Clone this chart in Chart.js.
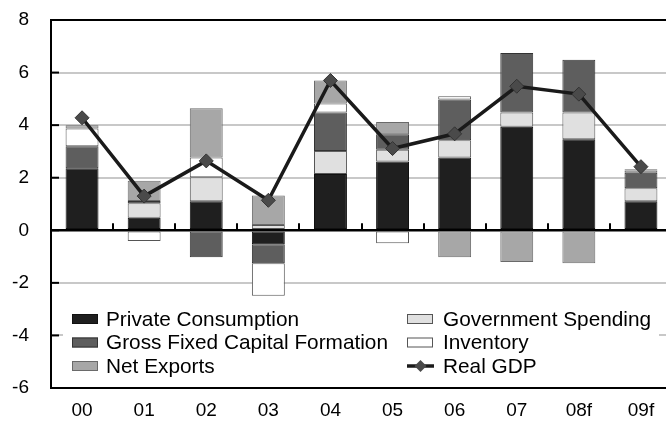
<!DOCTYPE html>
<html lang="en">
<head>
    <meta charset="UTF-8">
    <title>GDP contributions</title>
    <script src="https://cdn.jsdelivr.net/npm/chart.js@4.4.1/dist/chart.umd.min.js"></script>
    <style>
        html, body {
            margin: 0;
            padding: 0;
            background: #fff;
            overflow: hidden;
        }
        #wrap {
            width: 680px;
            height: 423px;
        }
    </style>
</head>
<body>
<div id="wrap"><canvas id="gdpChart" width="680" height="423"></canvas></div>
<script>
    // contributions to real GDP growth, percentage points
    const years = ['00', '01', '02', '03', '04', '05', '06', '07', '08f', '09f'];
    const privCons   = [2.36, 0.48, 1.10, -0.53, 2.14, 2.62, 2.77, 3.94, 3.46, 1.10];
    const govSpend   = [null, 0.55, 0.92, 0.20, 0.88, 0.44, 0.66, 0.54, 1.02, 0.50];
    const gfcf       = [0.84, 0.08, -1.03, -0.72, 1.46, 0.59, 1.55, 2.26, 2.01, 0.59];
    const inventory  = [0.67, -0.41, 0.75, -1.24, 0.34, -0.49, 0.12, null, null, 0.08];
    const netExports = [0.13, 0.77, 1.87, 1.12, 0.88, 0.47, -1.03, -1.21, -1.25, 0.05];
    const realGdp    = [4.28, 1.30, 2.64, 1.14, 5.70, 3.11, 3.67, 5.48, 5.18, 2.42];
    const yTicks = [-6, -4, -2, 0, 2, 4, 6, 8];

    const FONT = '"Liberation Sans", Arial, sans-serif';

    function barSet(label, data, fill, edge) {
        return {
            type: 'bar',
            label: label,
            data: data,
            backgroundColor: fill,
            borderColor: edge,
            borderWidth: 1,
            borderSkipped: false,
            stack: 'c',
            order: 1,
            barPercentage: 0.53,
            categoryPercentage: 1
        };
    }

    const datasets = [
        barSet('Private Consumption', privCons, '#1f1f1f', '#111'),
        barSet('Government Spending', govSpend, '#e0e0e0', '#555'),
        barSet('Gross Fixed Capital Formation', gfcf, '#5e5e5e', '#333'),
        barSet('Inventory', inventory, '#ffffff', '#555'),
        barSet('Net Exports', netExports, '#a7a7a7', '#6a6a6a'),
        {
            type: 'line',
            label: 'Real GDP',
            data: realGdp,
            stack: 'g',
            order: 0,
            borderColor: '#1a1a1a',
            borderWidth: 3.5,
            tension: 0,
            pointStyle: 'rectRot',
            pointRadius: 7,
            pointBackgroundColor: '#4a4a4a',
            pointBorderColor: '#333',
            pointBorderWidth: 1
        }
    ];

    // legend in two columns, row by row, on a white panel inside the plot
    const legendRows = [
        [datasets[0], datasets[1]],
        [datasets[2], datasets[3]],
        [datasets[4], datasets[5]]
    ];

    const extras = {
        id: 'extras',
        afterDraw(chart) {
            const c = chart.ctx;
            const xs = chart.scales.x;
            const ys = chart.scales.y;
            const area = chart.chartArea;
            c.save();

            // y axis ticks pointing inward
            c.strokeStyle = '#000';
            c.lineWidth = 2;
            yTicks.forEach(v => {
                const py = ys.getPixelForValue(v);
                c.beginPath();
                c.moveTo(area.left, py);
                c.lineTo(area.left + 8, py);
                c.stroke();
            });

            // category separators on the zero line
            const y0 = ys.getPixelForValue(0);
            for (let i = 1; i < years.length; i++) {
                const px = Math.round((xs.getPixelForValue(i - 1) + xs.getPixelForValue(i)) / 2);
                c.beginPath();
                c.moveTo(px, y0);
                c.lineTo(px, y0 - 7);
                c.stroke();
            }

            // legend panel
            c.fillStyle = '#fff';
            c.fillRect(63, 301, 596, 84);
            c.font = '20.8px ' + FONT;
            c.textBaseline = 'middle';
            c.textAlign = 'left';
            const colBox = [72, 407];
            const colText = [106, 443];
            const rowY = [319, 342.5, 366];
            legendRows.forEach((row, r) => {
                row.forEach((ds, k) => {
                    const bx = colBox[k];
                    const by = rowY[r];
                    if (ds.type === 'line') {
                        c.strokeStyle = ds.borderColor;
                        c.lineWidth = 3.5;
                        c.beginPath();
                        c.moveTo(bx, by);
                        c.lineTo(bx + 27, by);
                        c.stroke();
                        c.fillStyle = ds.pointBackgroundColor;
                        c.beginPath();
                        c.moveTo(bx + 13.5, by - 6);
                        c.lineTo(bx + 19.5, by);
                        c.lineTo(bx + 13.5, by + 6);
                        c.lineTo(bx + 7.5, by);
                        c.closePath();
                        c.fill();
                    } else {
                        c.fillStyle = ds.backgroundColor;
                        c.fillRect(bx, by - 5, 26, 10);
                        c.strokeStyle = ds.borderColor;
                        c.lineWidth = 1;
                        c.strokeRect(bx + 0.5, by - 4.5, 25, 9);
                    }
                    c.fillStyle = '#000';
                    c.fillText(ds.label, colText[k], by + 1);
                });
            });
            c.restore();
        }
    };

    new Chart(document.getElementById('gdpChart'), {
        data: { labels: years, datasets: datasets },
        options: {
            responsive: false,
            devicePixelRatio: 1,
            animation: false,
            layout: { padding: { top: 20, left: 0, right: 8, bottom: 0 } },
            plugins: {
                legend: { display: false },
                tooltip: { enabled: false }
            },
            scales: {
                x: {
                    stacked: true,
                    grid: { display: false, drawTicks: false },
                    border: { display: true, color: '#000', width: 2 },
                    ticks: {
                        color: '#000',
                        font: { family: FONT, size: 19 },
                        padding: 11,
                        maxRotation: 0
                    },
                    afterFit(scale) {
                        scale.height = 35;
                        scale.paddingLeft = 0;
                        scale.paddingRight = 0;
                    }
                },
                y: {
                    stacked: true,
                    min: -6,
                    max: 8,
                    afterBuildTicks(scale) {
                        scale.ticks = yTicks.map(v => ({ value: v }));
                    },
                    grid: {
                        drawTicks: false,
                        color: ctx => (ctx.tick && [0, 8, -6].includes(ctx.tick.value)) ? '#000' : '#c8c8c8',
                        lineWidth: ctx => (ctx.tick && ctx.tick.value === 0) ? 2.5 : 2
                    },
                    border: { display: true, color: '#000', width: 2 },
                    ticks: {
                        color: '#000',
                        font: { family: FONT, size: 19 },
                        padding: 22
                    },
                    afterFit(scale) {
                        scale.width = 51;
                        scale.paddingTop = 0;
                        scale.paddingBottom = 0;
                    }
                }
            }
        },
        plugins: [extras]
    });
</script>
</body>
</html>
